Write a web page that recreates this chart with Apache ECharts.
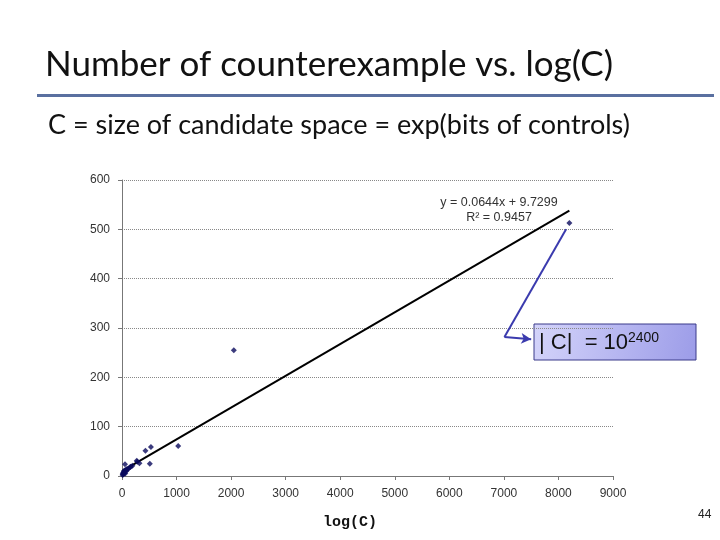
<!DOCTYPE html>
<html><head><meta charset="utf-8">
<script src="https://cdn.jsdelivr.net/npm/echarts@6/dist/echarts.min.js"></script>
<style>html,body{margin:0;padding:0;background:#fff}#c{width:720px;height:540px}</style>
</head><body><div id="c"></div>
<script>
const xValues = [10,15,20,25,30,35,40,45,50,60,70,80,90,100,120,150,160,190,55,270,320,280,430,530,510,1030,2050,8200];
const yValues = [2,5,3,7,4,9,6,11,8,5,12,10,14,13,15,18,19,21,24,31,26,29,51,59,25,61,255,513];
const slope = 0.0644, intercept = 9.7299;
const trendX = [0, 8200];
const xTicks = [0,1000,2000,3000,4000,5000,6000,7000,8000,9000];
const yTicks = [0,100,200,300,400,500,600];
const arrowPath = [[8140,500],[7010,282],[7500,277]];

const points = xValues.map((x,i)=>[x,yValues[i]]);
const trend = trendX.map(x=>[x, slope*x+intercept]);

const chart = echarts.init(document.getElementById('c'));
chart.setOption({
  animation:false,
  backgroundColor:'#fff',
  grid:{left:122,right:107,top:180,bottom:64},
  xAxis:{type:'value',min:xTicks[0],max:xTicks[xTicks.length-1],interval:1000,
    axisLine:{lineStyle:{color:'#777'}},axisTick:{show:true,length:4,lineStyle:{color:'#777'}},
    splitLine:{show:false},
    axisLabel:{fontFamily:'Liberation Sans, Arial',fontSize:12,color:'#333',margin:12,formatter:v=>String(v)}},
  yAxis:{type:'value',min:yTicks[0],max:yTicks[yTicks.length-1],interval:100,
    axisLine:{show:true,lineStyle:{color:'#777'}},axisTick:{show:true,length:4,lineStyle:{color:'#777'}},
    splitLine:{lineStyle:{color:'#888',type:[1,1],width:1}},
    axisLabel:{fontFamily:'Liberation Sans, Arial',fontSize:12,color:'#333',margin:12,formatter:v=>String(v)}},
  series:[
    {type:'line',data:trend,symbol:'none',lineStyle:{color:'#000',width:2},z:2,
     markLine:{silent:true,symbol:['none','none'],lineStyle:{color:'#3b3bae',width:2,type:'solid'},label:{show:false},
       data:[
         [{coord:arrowPath[0]},{coord:arrowPath[1]}],
         [{coord:arrowPath[1],symbol:'none'},{coord:arrowPath[2],symbol:'arrow',symbolSize:[8,10]}]
       ]}},
    {type:'scatter',data:points,symbol:'diamond',symbolSize:6,itemStyle:{color:'#0a0a5c'},z:3}
  ],
  graphic:[
    {type:'text',left:45,top:47,style:{text:'Number of counterexample vs. log(C)',font:'35px Lato, "Open Sans", sans-serif',fill:'#111'}},
    {type:'rect',shape:{x:37,y:94,width:677,height:3},style:{fill:'#5a70a0'}},
    {type:'text',left:48,top:112,style:{text:'C = size of candidate space = exp(bits of controls)',font:'27px Lato, "Open Sans", sans-serif',fill:'#111'}},
    {type:'text',x:499,y:196,style:{text:'y = 0.0644x + 9.7299',font:'12.5px "Liberation Sans", Arial',fill:'#333',align:'center'}},
    {type:'text',x:499,y:211,style:{text:'R² = 0.9457',font:'12.5px "Liberation Sans", Arial',fill:'#333',align:'center'}},
    {type:'rect',shape:{x:534,y:324,width:162,height:36},
      style:{fill:new echarts.graphic.LinearGradient(0,0,1,1,[{offset:0,color:'#d4d4fa'},{offset:1,color:'#9c9ce8'}]),stroke:'#3a3a8a',lineWidth:1}},
    {type:'text',x:539,y:332,style:{text:'| C|  = 10',font:'22px "Liberation Sans", Arial',fill:'#111'}},
    {type:'text',x:628,y:331,style:{text:'2400',font:'14px "Liberation Sans", Arial',fill:'#111'}},
    {type:'text',x:350,y:515,style:{text:'log(C)',font:'bold 15px "Liberation Mono", "Courier New", monospace',fill:'#111',align:'center'}},
    {type:'text',x:698,y:509,style:{text:'44',font:'12px "Liberation Sans", Arial',fill:'#222'}}
  ]
});
</script></body></html>
